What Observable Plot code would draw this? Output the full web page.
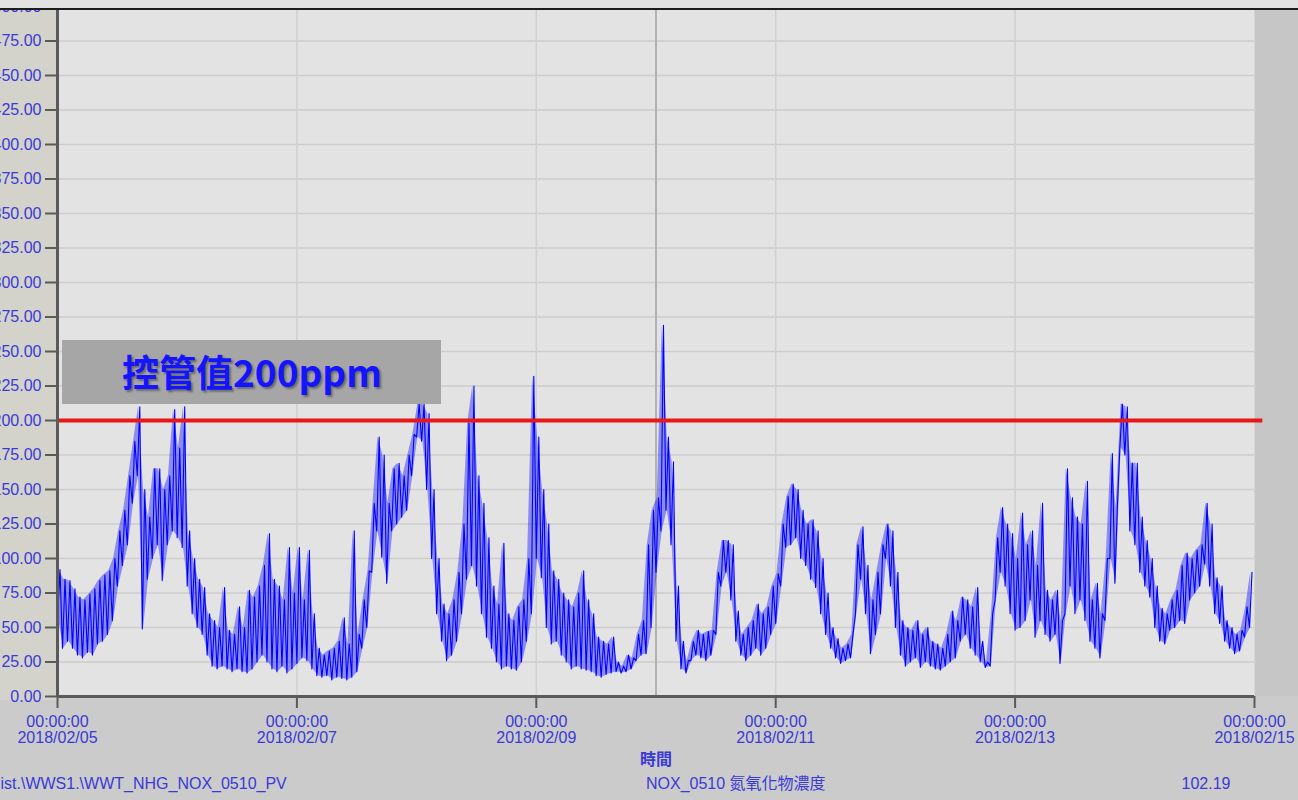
<!DOCTYPE html>
<html>
<head>
<meta charset="utf-8">
<script src="https://cdn.jsdelivr.net/npm/d3@7"></script>
<script src="https://cdn.jsdelivr.net/npm/@observablehq/plot@0.6"></script>
<style>
  html, body { margin: 0; padding: 0; background: #cbcbcb; }
  #wrap { position: relative; width: 1298px; height: 800px; overflow: hidden; background: #cbcbcb; }
  #leftband { position: absolute; left: 0; top: 0; width: 57px; height: 700px; background: #d3d2cb; }
  #rightband { position: absolute; left: 1253px; top: 0; width: 45px; height: 696px; background: #c6c6c6; border-left: 1px solid #d6d6d6; }
  #chart { position: absolute; left: 0; top: 0; }
  #topbar { position: absolute; left: 0; top: 0; width: 1298px; height: 8px; background: #e2e2e2; border-bottom: 2px solid #1c1c1c; }
  #limitbox {
    position: absolute; left: 62px; top: 340px; width: 379px; height: 64px;
    background: #a6a6a6; box-sizing: border-box; padding-left: 60px;
    font: bold 37px "Noto Sans CJK TC", "Noto Sans", sans-serif; line-height: 62px;
    color: #1414ff; text-shadow: 2px 2px 2px rgba(40,40,40,0.45);
  }
</style>
</head>
<body>
<div id="wrap">
  <div id="leftband"></div>
  <div id="rightband"></div>
  <div id="chart"></div>
  <div id="limitbox">控管值200ppm</div>
  <div id="topbar"></div>
</div>
<script>
// NOx concentration (ppm), 10 days from 2018/02/05 00:00, hourly low / high envelope
const hourlyLow = [
  55,35,40,35,30,28,32,30,38,40,45,55,80,95,110,140,160,49,85,100,110,84,110,120,
  115,108,80,60,50,45,30,22,20,22,20,18,20,18,17,20,25,30,25,20,18,22,17,20,
  24,28,26,20,15,14,15,12,14,13,12,14,18,35,50,90,120,101,82,120,125,130,135,160,
  188,185,150,100,60,40,26,30,40,60,85,95,80,60,43,35,25,20,22,20,19,25,40,60,
  100,86,50,38,40,30,25,20,22,20,19,18,15,14,16,17,18,17,18,20,26,30,31,50,
  90,120,135,110,40,20,17,26,30,28,26,30,45,80,90,70,40,30,26,30,35,30,35,45,
  53,80,108,110,115,100,95,85,79,60,45,35,28,24,26,28,60,85,60,31,45,60,100,80,
  50,30,22,25,28,21,25,22,20,19,22,25,28,40,45,35,30,25,21,22,70,90,80,60,
  48,50,55,70,43,55,45,40,45,24,60,80,60,70,55,40,35,28,55,100,82,180,175,120,
  110,90,80,72,50,40,38,48,50,55,53,70,75,80,96,80,60,53,40,35,31,33,43,50
];
const hourlyHigh = [
  92,85,84,78,72,70,74,78,84,88,91,100,120,135,160,185,210,150,130,165,165,150,160,208,
  180,210,120,100,85,79,60,55,50,79,48,45,65,50,77,72,80,95,118,85,80,70,108,75,
  108,70,106,60,35,30,33,35,40,57,38,120,45,70,91,140,188,175,140,165,169,160,175,190,
  212,212,205,150,100,67,60,70,90,125,198,225,160,140,115,80,67,111,60,55,65,70,100,232,
  188,150,125,91,85,75,70,65,75,91,70,60,43,40,38,43,25,22,30,28,45,55,110,135,
  144,269,188,170,80,40,26,40,48,45,47,48,90,113,113,110,62,45,50,55,67,60,65,80,
  89,125,145,154,150,135,125,128,120,100,75,50,42,35,38,45,110,123,95,70,90,110,125,120,
  90,55,50,48,55,45,50,40,38,35,45,62,55,72,70,65,79,40,25,60,115,137,125,118,
  100,133,110,120,95,140,77,70,77,55,165,144,130,125,156,70,82,60,100,176,137,212,210,169,
  169,130,113,100,80,64,60,70,77,95,104,100,106,110,140,125,86,80,55,50,45,48,65,90
];

const startTime = "2018-02-05T00:00:00Z";
const endTime = "2018-02-15T00:00:00Z";
const limitLineEnd = "2018-02-15T01:40:00Z";
const cursorTime = "2018-02-10T00:00:00Z";
const limitValue = 200;

const xTickDates = ["2018/02/05", "2018/02/07", "2018/02/09", "2018/02/11", "2018/02/13", "2018/02/15"];
const xTickTime = "00:00:00";
const yTickValues = d3.range(0, 501, 25);

const axisLabel = "時間";
const tagName = "ist.\\WWS1.\\WWT_NHG_NOX_0510_PV";
const tagDesc = "NOX_0510 氮氧化物濃度";
const currentValue = "102.19";

// hourly envelope rows and the zig-zag trace between each hour's low and high
const t0 = new Date(startTime).getTime();
const HOUR = 3600e3;
const envelope = hourlyLow.map((lo, i) => ({t: new Date(t0 + (i + 0.25) * HOUR), lo, hi: hourlyHigh[i]}));
const trace = [];
hourlyLow.forEach((lo, i) => {
  trace.push({t: new Date(t0 + i * HOUR), v: lo});
  trace.push({t: new Date(t0 + (i + 0.5) * HOUR), v: hourlyHigh[i]});
});

const parseDay = s => new Date(s.replace(/\//g, "-") + "T00:00:00Z");
const xTicks = xTickDates.map(parseDay);
const tickLabel = new Map(xTicks.map((d, i) => [d.getTime(), xTickTime + "\n" + xTickDates[i]]));
const gridDays = xTicks.slice(1, -1);

const textBlue = "#3a3ad6";
const axisGray = "#5a5a5a";

const chart = Plot.plot({
  width: 1298,
  height: 800,
  marginLeft: 57,
  marginRight: 44,
  marginTop: 6,
  marginBottom: 104,
  style: {background: "transparent", fontFamily: "'Liberation Sans', Arial, 'Noto Sans CJK TC', sans-serif", fontSize: "16px", overflow: "visible"},
  x: {type: "utc", domain: [new Date(startTime), new Date(endTime)]},
  y: {domain: [0, 500]},
  marks: [
    Plot.frame({fill: "#e3e3e3", stroke: null}),
    Plot.ruleY(yTickValues, {stroke: "#cdcdcd", strokeWidth: 1.5}),
    Plot.ruleX(gridDays, {stroke: "#d0d0d0", strokeWidth: 1.5}),
    Plot.ruleX([new Date(cursorTime)], {stroke: "#b2b2b2", strokeWidth: 2}),
    Plot.areaY(envelope, {x: "t", y1: "lo", y2: "hi", fill: "#0000ff", fillOpacity: 0.38}),
    Plot.line(trace, {x: "t", y: "v", stroke: "#0000ff", strokeWidth: 1.1}),
    Plot.ruleY([{y: limitValue, x1: new Date(startTime), x2: new Date(limitLineEnd)}],
      {y: "y", x1: "x1", x2: "x2", stroke: "#e81818", strokeWidth: 4}),
    Plot.ruleX([new Date(startTime)], {stroke: axisGray, strokeWidth: 3}),
    Plot.ruleY([0], {stroke: axisGray, strokeWidth: 3}),
    Plot.axisY({
      ticks: yTickValues, tickFormat: d3.format(".2f"),
      tickSize: 12, tickPadding: 4, stroke: axisGray, strokeWidth: 2,
      fill: textBlue, fontSize: 16, label: null
    }),
    Plot.axisX({
      ticks: xTicks, tickFormat: d => tickLabel.get(d.getTime()),
      tickSize: 12, tickPadding: 7, stroke: axisGray, strokeWidth: 2,
      fill: textBlue, fontSize: 16, lineHeight: 1, label: null
    }),
    Plot.text([axisLabel], {frameAnchor: "bottom", dy: 68, fill: textBlue, fontWeight: "bold", fontSize: 16}),
    Plot.text([tagName], {frameAnchor: "bottom-left", textAnchor: "start", dx: -57, dy: 92, fill: textBlue, fontSize: 16}),
    Plot.text([tagDesc], {frameAnchor: "bottom", textAnchor: "start", dx: -10, dy: 92, fill: textBlue, fontSize: 16}),
    Plot.text([currentValue], {frameAnchor: "bottom-right", textAnchor: "end", dx: -24, dy: 92, fill: textBlue, fontSize: 16})
  ]
});
document.getElementById("chart").appendChild(chart);
</script>
</body>
</html>
